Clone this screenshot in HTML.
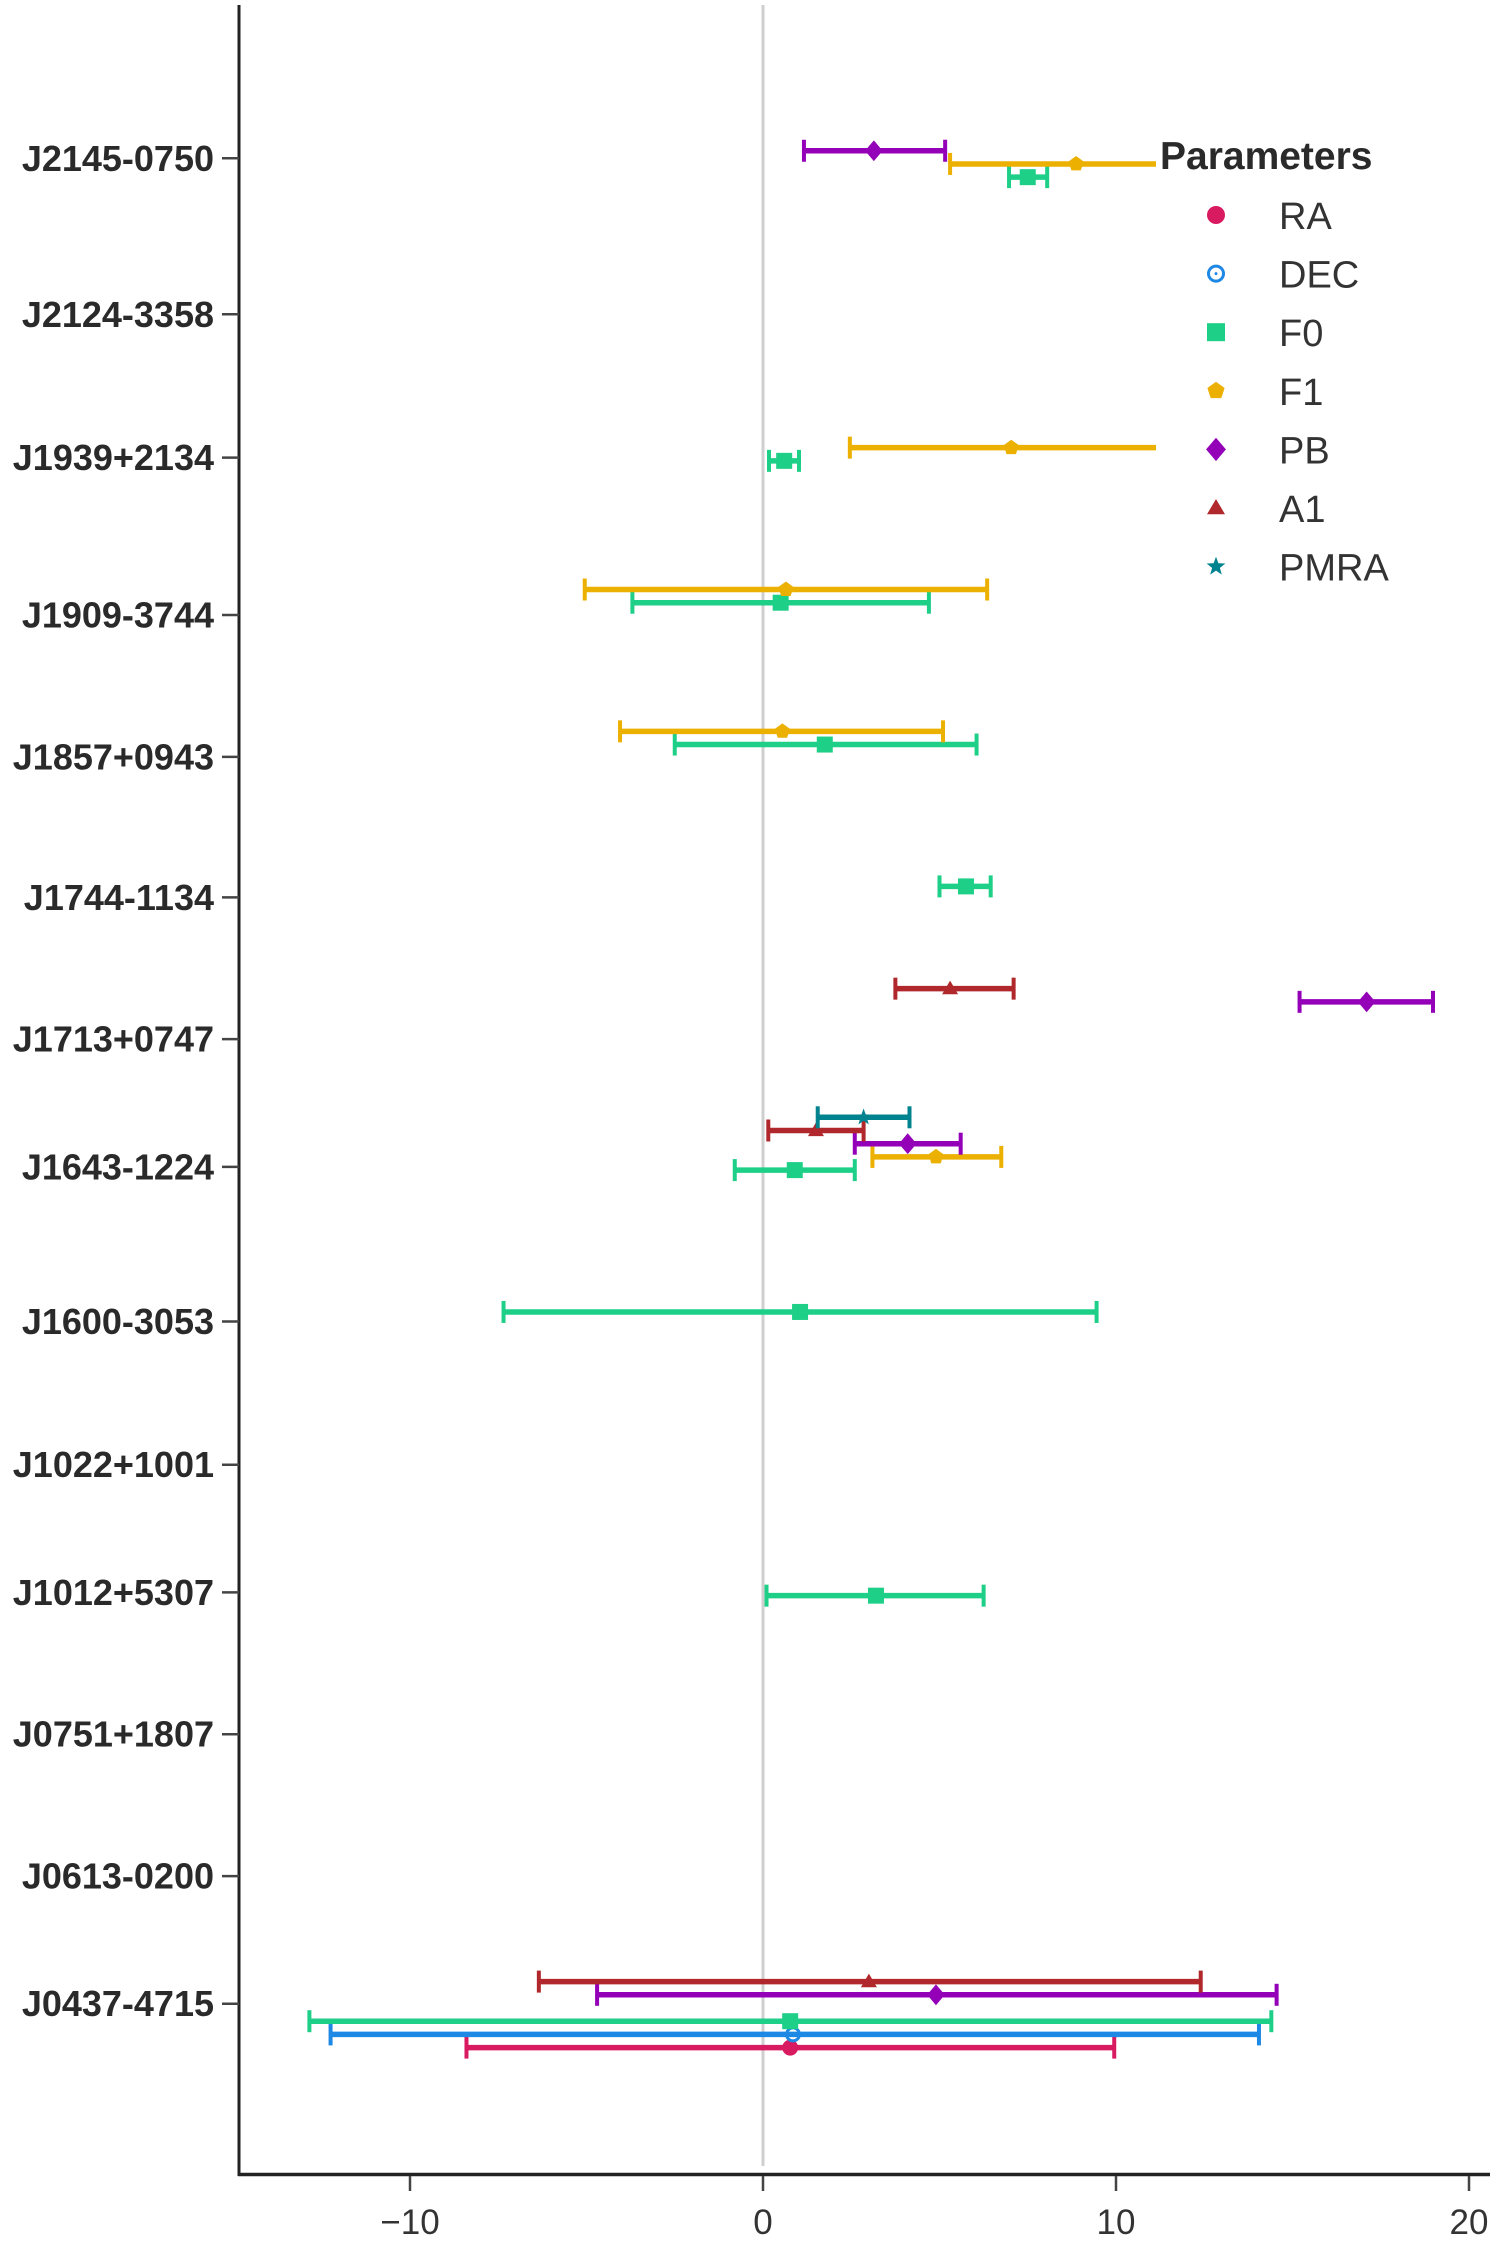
<!DOCTYPE html>
<html><head><meta charset="utf-8"><style>
html,body{margin:0;padding:0;background:#fff;}
svg{display:block;font-family:"Liberation Sans",sans-serif;}
</style></head>
<body>
<svg id="chart" width="1499" height="2242" viewBox="0 0 1499 2242" xmlns="http://www.w3.org/2000/svg">
<rect x="0" y="0" width="1499" height="2242" fill="#fff"/>
<line x1="763" y1="5" x2="763" y2="2166" stroke="#cfcfcf" stroke-width="3"/>
<g id="marks"></g>
<line x1="239" y1="5" x2="239" y2="2176" stroke="#222" stroke-width="3"/>
<line x1="238" y1="2174.5" x2="1490" y2="2174.5" stroke="#222" stroke-width="3.5"/>
<g id="yaxis"></g>
<g id="xaxis"></g>
<g id="legend">
<rect x="1156" y="130" width="343" height="470" fill="#fff"/>
<text x="1160" y="169" font-size="39" font-weight="bold" fill="#2a2a2a">Parameters</text>
</g>
</svg>
<script>
const categories = ['J0437-4715','J0613-0200','J0751+1807','J1012+5307','J1022+1001','J1600-3053','J1643-1224','J1713+0747','J1744-1134','J1857+0943','J1909-3744','J1939+2134','J2124-3358','J2145-0750'];
const tickPos = [0.03,0.93,1.93,2.93,3.83,4.84,5.93,6.83,7.83,8.82,9.82,10.93,11.94,13.04];
const xTicks = [-10,0,10,20];
const xTickLabels = ['\u221210','0','10','20'];
const seriesNames = ['RA','DEC','F0','F1','PB','A1','PMRA'];
const seriesColors = ['#d81b60','#1e88e5','#1ecf88','#ebb000','#9400b8','#b0282c','#00838f'];

const RA_cat = ['J0437-4715'];
const RA_val = [0.77]; const RA_lo = [-8.4]; const RA_hi = [9.95];
const DEC_cat = ['J0437-4715'];
const DEC_val = [0.85]; const DEC_lo = [-12.25]; const DEC_hi = [14.05];
const F0_cat = ['J0437-4715','J1012+5307','J1600-3053','J1643-1224','J1744-1134','J1857+0943','J1909-3744','J1939+2134','J2145-0750'];
const F0_val = [0.77,3.2,1.05,0.9,5.75,1.75,0.5,0.6,7.5];
const F0_lo = [-12.85,0.1,-7.35,-0.8,5.0,-2.5,-3.7,0.17,6.97];
const F0_hi = [14.4,6.25,9.45,2.6,6.45,6.05,4.7,1.02,8.05];
const F1_cat = ['J1643-1224','J1857+0943','J1909-3744','J1939+2134','J2145-0750'];
const F1_val = [4.9,0.55,0.65,7.03,8.87];
const F1_lo = [3.1,-4.05,-5.05,2.46,5.3];
const F1_hi = [6.75,5.1,6.35,11.6,12.4];
const PB_cat = ['J0437-4715','J1643-1224','J1713+0747','J2145-0750'];
const PB_val = [4.9,4.1,17.1,3.14];
const PB_lo = [-4.7,2.6,15.2,1.16];
const PB_hi = [14.55,5.6,18.98,5.16];
const A1_cat = ['J0437-4715','J1643-1224','J1713+0747'];
const A1_val = [3.0,1.5,5.3];
const A1_lo = [-6.35,0.15,3.75];
const A1_hi = [12.4,2.85,7.1];
const PMRA_cat = ['J1643-1224'];
const PMRA_val = [2.85]; const PMRA_lo = [1.55]; const PMRA_hi = [4.15];

const seriesData = [
  [RA_cat,RA_val,RA_lo,RA_hi],[DEC_cat,DEC_val,DEC_lo,DEC_hi],[F0_cat,F0_val,F0_lo,F0_hi],
  [F1_cat,F1_val,F1_lo,F1_hi],[PB_cat,PB_val,PB_lo,PB_hi],[A1_cat,A1_val,A1_lo,A1_hi],[PMRA_cat,PMRA_val,PMRA_lo,PMRA_hi]
];

const NS='http://www.w3.org/2000/svg';
function xs(v){return 763+35.3*v;}
function ys(u){return 2008-141.85*u;}
function mk(tag,attrs,parent){const e=document.createElementNS(NS,tag);for(const k in attrs)e.setAttribute(k,attrs[k]);parent.appendChild(e);return e;}

function marker(kind,cx,cy,color,parent,s){
  s=s||7.5;let e;
  if(kind===0){e=mk('circle',{cx:cx,cy:cy,r:s,fill:color},parent);}
  else if(kind===1){e=mk('g',{},parent);
    mk('circle',{cx:cx,cy:cy,r:s-1.5,fill:'none',stroke:color,'stroke-width':3},e);
    mk('circle',{cx:cx,cy:cy,r:1.5,fill:color},e);}
  else if(kind===2){e=mk('rect',{x:cx-s,y:cy-s,width:2*s,height:2*s,fill:color},parent);}
  else if(kind===3){let p=[];for(let i=0;i<5;i++){const a=-Math.PI/2+i*2*Math.PI/5;p.push((cx+s*Math.cos(a)).toFixed(1)+','+(cy+s*Math.sin(a)).toFixed(1));}
    e=mk('polygon',{points:p.join(' '),fill:color},parent);}
  else if(kind===4){e=mk('polygon',{points:`${cx},${cy-s*1.3} ${cx+s*1.1},${cy} ${cx},${cy+s*1.3} ${cx-s*1.1},${cy}`,fill:color},parent);}
  else if(kind===5){e=mk('polygon',{points:`${cx},${cy-s} ${cx+s},${cy+s*0.7} ${cx-s},${cy+s*0.7}`,fill:color},parent);}
  else {let p=[];for(let i=0;i<10;i++){const a=-Math.PI/2+i*Math.PI/5;const r=i%2?s*0.45:s*1.1;p.push((cx+r*Math.cos(a)).toFixed(1)+','+(cy+r*Math.sin(a)).toFixed(1));}
    e=mk('polygon',{points:p.join(' '),fill:color},parent);}
  return e;
}

const marks=document.getElementById('marks');
seriesData.forEach((sd,k)=>{
  const [cats,vals,lo,hi]=sd;const color=seriesColors[k];
  const g=mk('g',{},marks);
  
  
  cats.forEach((c,i)=>{
    const u=categories.indexOf(c);
    const y=ys(u)+(3-k)*13.2;
    const x1=xs(lo[i]),x2=xs(hi[i]),xc=xs(vals[i]);
    const eg=mk('g',{},g);
    
    
    mk('line',{x1:x1,y1:y,x2:x2,y2:y,stroke:color,'stroke-width':5.5},eg);
    mk('line',{x1:x1,y1:y-11,x2:x1,y2:y+11,stroke:color,'stroke-width':4},eg);
    mk('line',{x1:x2,y1:y-11,x2:x2,y2:y+11,stroke:color,'stroke-width':4},eg);
    marker(k,xc,y,color,eg,8);
  });
});

const yaxis=document.getElementById('yaxis');
categories.forEach((c,i)=>{
  const y=ys(tickPos[i]);
  const t=mk('line',{x1:222,y1:y,x2:239,y2:y,stroke:'#444','stroke-width':2.5},yaxis);
  
  
  const tx=mk('text',{x:214,y:y+12.5,'text-anchor':'end','font-size':36,'font-weight':'bold',fill:'#2a2a2a'},yaxis);
  tx.textContent=c;
  
  
});

const xaxis=document.getElementById('xaxis');
xTicks.forEach((v,i)=>{
  const x=xs(v);
  const t=mk('line',{x1:x,y1:2176,x2:x,y2:2191,stroke:'#444','stroke-width':2.5},xaxis);
  
  
  const tx=mk('text',{x:x,y:2234,'text-anchor':'middle','font-size':35,fill:'#333'},xaxis);
  tx.textContent=xTickLabels[i];
  
  
});

const legend=document.getElementById('legend');
seriesNames.forEach((n,k)=>{
  const y=215+k*58.6;
  const g=mk('g',{},legend);
  
  
  marker(k,1216,y,seriesColors[k],g,9);
  const tx=mk('text',{x:1279,y:y+14,'font-size':38,fill:'#333'},g);
  tx.textContent=n;
});
</script>
</body></html>
